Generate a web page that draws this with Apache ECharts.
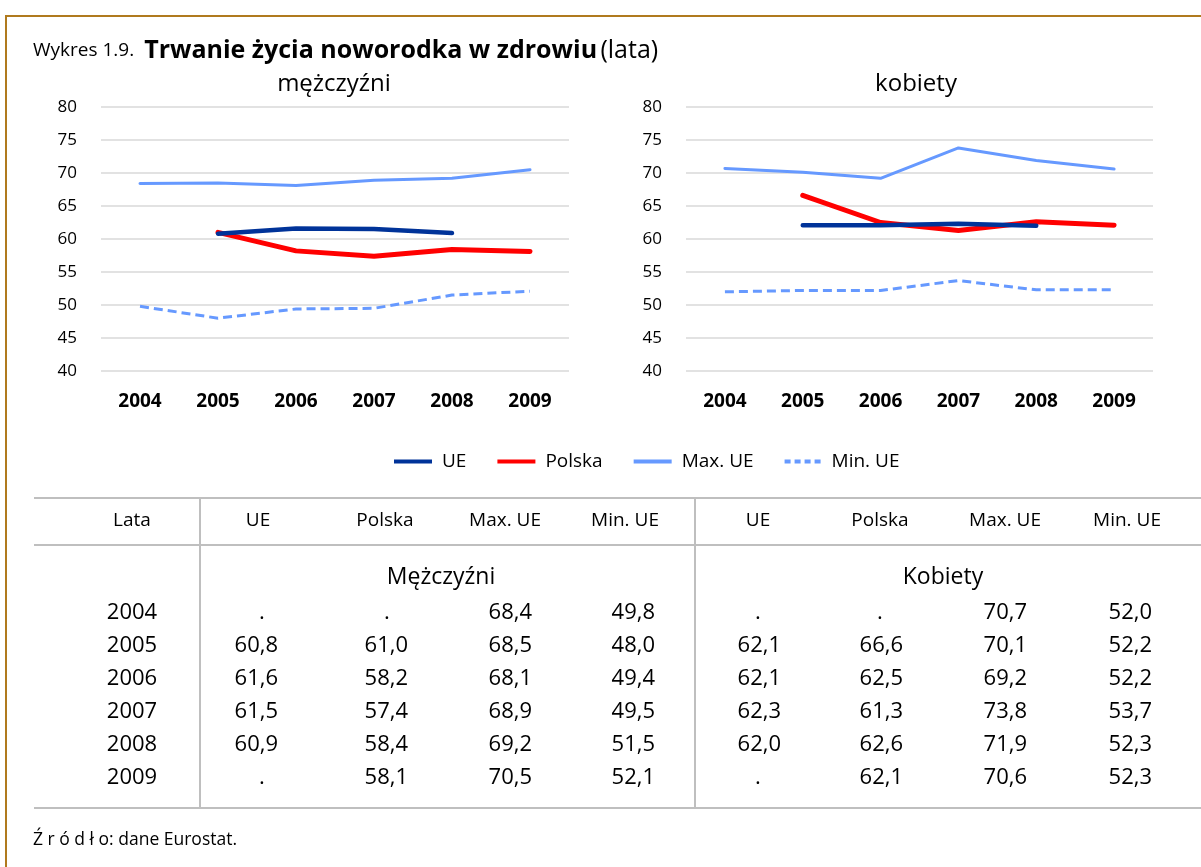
<!DOCTYPE html>
<html>
<head>
<meta charset="utf-8">
<script src="https://cdn.jsdelivr.net/npm/echarts@6/dist/echarts.min.js"></script>
<style>
  html, body { margin: 0; padding: 0; background: #fff; }
  #main { width: 1201px; height: 867px; }
</style>
</head>
<body>
<div id="main"></div>
<script>
// data
var years = ['2004', '2005', '2006', '2007', '2008', '2009'];
var ueM = [null, 60.8, 61.6, 61.5, 60.9, null];
var plM = [null, 61.0, 58.2, 57.4, 58.4, 58.1];
var maxM = [68.4, 68.5, 68.1, 68.9, 69.2, 70.5];
var minM = [49.8, 48.0, 49.4, 49.5, 51.5, 52.1];
var ueK = [null, 62.1, 62.1, 62.3, 62.0, null];
var plK = [null, 66.6, 62.5, 61.3, 62.6, 62.1];
var maxK = [70.7, 70.1, 69.2, 73.8, 71.9, 70.6];
var minK = [52.0, 52.2, 52.2, 53.7, 52.3, 52.3];
var colHeads = ['UE', 'Polska', 'Max. UE', 'Min. UE'];

var FONT = '"Open Sans", Lato, sans-serif';
var dom = document.getElementById('main');
var chart = echarts.init(dom);

function fmt(v) {
    return v == null ? '.' : v.toFixed(1).replace('.', ',');
}

function mkSeries(name, data, gi) {
    var s = {
        name: name,
        type: 'line',
        xAxisIndex: gi,
        yAxisIndex: gi,
        data: data,
        symbol: 'none',
        connectNulls: false,
        lineStyle: { cap: 'round', join: 'round' }
    };
    if (name == 'UE') { s.lineStyle.color = '#003399'; s.lineStyle.width = 4.5; s.z = 5; }
    if (name == 'Polska') { s.lineStyle.color = '#FF0000'; s.lineStyle.width = 5; s.z = 4; }
    if (name == 'Max. UE') { s.lineStyle.color = '#6699FF'; s.lineStyle.width = 3; s.z = 3; }
    if (name == 'Min. UE') { s.lineStyle.color = '#6699FF'; s.lineStyle.width = 3; s.lineStyle.type = [9, 5]; s.lineStyle.cap = 'butt'; s.z = 3; }
    s.itemStyle = { color: s.lineStyle.color };
    return s;
}

function axisX(gi) {
    return {
        type: 'category', gridIndex: gi, data: years, boundaryGap: true,
        axisLine: { show: false }, axisTick: { show: false },
        axisLabel: { color: '#000', fontFamily: FONT, fontWeight: 'bold', fontSize: 19, margin: 21 }
    };
}
function axisY(gi) {
    return {
        type: 'value', gridIndex: gi, min: 40, max: 80, interval: 5,
        axisLine: { show: false }, axisTick: { show: false },
        splitLine: { lineStyle: { color: '#D9D9D9', width: 1.5 } },
        axisLabel: { color: '#000', fontFamily: FONT, fontSize: 17, margin: 24 }
    };
}

// frame, titles and the table, built from the data arrays
var g = [];
g.push({ type: 'rect', shape: { x: 6, y: 16, width: 1200, height: 860 }, style: { fill: 'none', stroke: '#B07A1E', lineWidth: 2 } });
g.push({
    type: 'text', x: 33, y: 51,
    style: {
        text: '{a|Wykres 1.9.}   {b|Trwanie życia noworodka w zdrowiu} {c|(lata)}',
        verticalAlign: 'middle',
        rich: {
            a: { fontFamily: FONT, fontSize: 19, fill: '#000' },
            b: { fontFamily: FONT, fontSize: 25, fontWeight: 'bold', fill: '#000' },
            c: { fontFamily: FONT, fontSize: 25, fill: '#000' }
        }
    }
});
g.push({ type: 'text', x: 334, y: 84, style: { text: 'mężczyźni', font: '24px ' + FONT, fill: '#000', align: 'center', verticalAlign: 'middle' } });
g.push({ type: 'text', x: 916, y: 84, style: { text: 'kobiety', font: '24px ' + FONT, fill: '#000', align: 'center', verticalAlign: 'middle' } });

var lineCol = '#BFBFBF';
[498, 545, 808].forEach(function (y) {
    g.push({ type: 'line', shape: { x1: 34, y1: y, x2: 1201, y2: y }, style: { stroke: lineCol, lineWidth: 2 } });
});
[200, 695].forEach(function (x) {
    g.push({ type: 'line', shape: { x1: x, y1: 498, x2: x, y2: 808 }, style: { stroke: lineCol, lineWidth: 2 } });
});

var headX = [258, 385, 505, 625, 758, 880, 1005, 1127];
function txt(s, x, y, size, align) {
    g.push({ type: 'text', x: x, y: y, style: { text: s, font: size + 'px ' + FONT, fill: '#000', align: align || 'center', verticalAlign: 'middle' } });
}
txt('Lata', 132, 521, 19);
for (var i = 0; i < 8; i++) txt(colHeads[i % 4], headX[i], 521, 19);
txt('Mężczyźni', 441, 577, 23);
txt('Kobiety', 943, 577, 23);

var cols = [ueM, plM, maxM, minM, ueK, plK, maxK, minK];
var rightX = [278, 408, 532, 655, 781, 903, 1027, 1152];
var dotX = [262, 387, 0, 0, 758, 880, 0, 0];
for (var r = 0; r < years.length; r++) {
    var y = 613 + 33 * r;
    txt(years[r], 132, y, 22);
    for (var c = 0; c < cols.length; c++) {
        var v = cols[c][r];
        if (v == null) txt('.', dotX[c], y, 22);
        else txt(fmt(v), rightX[c], y, 22, 'right');
    }
}
txt('Ź r ó d ł o: dane Eurostat.', 33, 840, 17.5, 'left');

var solidIcon = 'rect';
var dotIcon = 'path://M0,0h6v4h-6z M10,0h6v4h-6z M20,0h6v4h-6z M30,0h6v4h-6z';

var option = {
    animation: false,
    backgroundColor: '#fff',
    grid: [
        { left: 101, top: 107, width: 468, height: 264 },
        { left: 686, top: 107, width: 467, height: 264 }
    ],
    legend: {
        left: 389, top: 447,
        itemWidth: 38, itemHeight: 4, itemGap: 31,
        textStyle: { color: '#000', fontFamily: FONT, fontSize: 19, padding: [0, 0, 0, 5] },
        data: [
            { name: 'UE', icon: solidIcon },
            { name: 'Polska', icon: solidIcon },
            { name: 'Max. UE', icon: solidIcon },
            { name: 'Min. UE', icon: dotIcon }
        ]
    },
    xAxis: [axisX(0), axisX(1)],
    yAxis: [axisY(0), axisY(1)],
    series: [
        mkSeries('Max. UE', maxM, 0),
        mkSeries('Min. UE', minM, 0),
        mkSeries('Polska', plM, 0),
        mkSeries('UE', ueM, 0),
        mkSeries('Max. UE', maxK, 1),
        mkSeries('Min. UE', minK, 1),
        mkSeries('Polska', plK, 1),
        mkSeries('UE', ueK, 1)
    ],
    graphic: g
};

chart.setOption(option);
window.addEventListener('resize', function () {
    chart.resize();
});
</script>
</body>
</html>
